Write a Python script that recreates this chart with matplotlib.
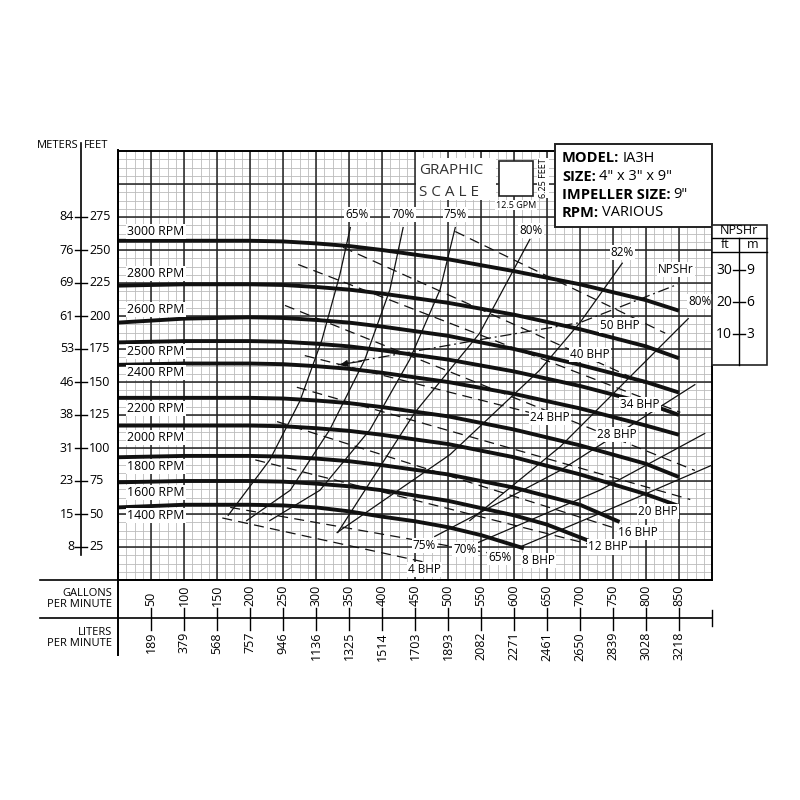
import matplotlib
matplotlib.use("Agg")
import matplotlib.pyplot as plt
import numpy as np

plt.rcParams['font.family'] = ['Open Sans', 'DejaVu Sans']

# ---- head curves (gpm, feet) ----
gpm_std = [0, 100, 200, 250, 300, 350, 400, 500, 600, 700, 800, 850]
head_curves = {
    "3000 RPM": (gpm_std, [257, 257, 257, 256.5, 255, 253, 250, 243, 234, 224, 212, 204]),
    "2800 RPM": (gpm_std, [223, 224, 224, 223.5, 222, 220, 217, 210, 201, 190, 177, 168]),
    "2600 RPM": (gpm_std, [195, 198, 199, 198.5, 197, 195, 192, 185, 175, 163, 150, 142]),
    "2500 RPM": (gpm_std, [180, 181, 181, 180.5, 179, 177, 174, 167, 158, 147, 134, 125]),
    "2400 RPM": (gpm_std, [163, 164, 164, 163.5, 162, 160, 157, 150, 141, 130, 117, 110]),
    "2200 RPM": (gpm_std, [138, 138, 138, 137.5, 136, 134, 131, 124, 114, 102, 88, 78]),
    "2000 RPM": (gpm_std, [117, 117, 117, 116.5, 115, 113, 110, 103, 93, 80, 65, 56]),
    "1800 RPM": ([0, 100, 200, 250, 300, 350, 400, 500, 600, 700, 760],
                 [93, 94, 94, 93.5, 92, 90, 87, 80, 70, 57, 44]),
    "1600 RPM": ([0, 100, 200, 250, 300, 350, 400, 500, 600, 650, 717],
                 [74, 75, 75, 74.5, 73, 71, 68, 60, 49, 42, 29]),
    "1400 RPM": ([0, 100, 200, 250, 300, 350, 400, 450, 500, 550, 615],
                 [55, 57, 57, 56.5, 55, 52, 48, 44.5, 40, 34, 24]),
}
rpm_label_ft = [264, 232, 205, 173, 157, 130, 108, 86, 66, 49]

# ---- efficiency curves ----
eff_curves = [
    ([352, 336, 309, 276, 230, 167], [267, 231, 182, 136, 91, 49]),   # 65%
    ([432, 412, 374, 321, 261, 195], [267, 220, 167, 114, 68, 45]),   # 70%
    ([511, 488, 442, 382, 306, 230], [267, 220, 167, 114, 68, 45]),   # 75%
    ([624, 548, 450, 333], [258, 187, 127, 36]),                      # 80%
    ([764, 700, 639, 503, 332], [240, 195, 159, 95, 36]),             # 82%
    ([864, 670, 533], [198, 101, 45]),                                # 80% right
    ([874, 670, 480], [148, 83, 33]),                                 # 75% right
    ([889, 730, 544], [111, 68, 28]),                                 # 70% right
    ([900, 761, 609], [87, 57, 25]),                                  # 65% right
]
eff_labels = ["65%", "70%", "75%", "80%", "82%", "80%", "75%", "70%", "65%"]
eff_label_pos = [(362, 277), (432, 277), (511, 277), (626, 265), (764, 248),
                 (882, 211), (464, 26), (526, 23), (579, 17)]

# ---- BHP lines ----
bhp_lines = [
    ([511, 829], [264, 187]), ([341, 798], [252, 149]), ([273, 852], [239, 127]),
    ([253, 874], [208, 83]), ([283, 639], [170, 125]), ([271, 867], [146, 61]),
    ([241, 761], [120, 38]), ([208, 715], [91, 27]), ([170, 579], [55, 19]),
    ([158, 488], [47, 11]),
]
bhp_labels = ["50 BHP", "40 BHP", "34 BHP", "28 BHP", "24 BHP", "20 BHP",
              "16 BHP", "12 BHP", "8 BHP", "4 BHP"]
bhp_label_pos = [(761, 193), (715, 171), (791, 133), (756, 110), (655, 123),
                 (818, 52), (788, 36), (742, 25), (637, 15), (465, 8)]

# ---- NPSHr ----
npsh_gpm = [333, 548, 700, 848]
npsh_ft = [163, 182, 195, 224]

# ---- axis labels ----
feet_ticks = [25, 50, 75, 100, 125, 150, 175, 200, 225, 250, 275]
meter_ticks = [8, 15, 23, 31, 38, 46, 53, 61, 69, 76, 84]
gpm_ticks = list(range(50, 900, 50))
lpm_ticks = [189, 379, 568, 757, 946, 1136, 1325, 1514, 1703, 1893, 2082,
             2271, 2461, 2650, 2839, 3028, 3218]

fig = plt.figure(figsize=(8, 8), dpi=100)
L, B, W, H = 118 / 800, 220 / 800, 594 / 800, 429 / 800
ax = fig.add_axes([L, B, W, H])
XMAX, YMAX = 900, 325
ax.set_xlim(0, XMAX)
ax.set_ylim(0, YMAX)
for g in np.arange(0, XMAX + 1, 12.5):
    ax.axvline(g, color='#bbbbbb', lw=0.6, zorder=0)
for f in np.arange(0, YMAX + 1, 6.25):
    ax.axhline(f, color='#bbbbbb', lw=0.6, zorder=0)
for g in range(0, XMAX, 50):
    ax.axvline(g, color='#222222', lw=1.1, zorder=1)
for f in range(0, YMAX, 25):
    ax.axhline(f, color='#222222', lw=1.1, zorder=1)
ax.set_xticks([])
ax.set_yticks([])
for s in ax.spines.values():
    s.set_linewidth(1.4)

lab = dict(fontsize=8.5, ha='center', va='center', zorder=6,
           bbox=dict(facecolor='white', edgecolor='none', pad=0.8))

for (name, (xs, ys)), ly in zip(head_curves.items(), rpm_label_ft):
    ax.plot(xs, ys, color='#111111', lw=2.8, solid_capstyle='butt',
            solid_joinstyle='round', zorder=4)
    ax.text(14, ly, name, fontsize=8.8, ha='left', va='center', zorder=6,
            bbox=dict(facecolor='white', edgecolor='none', pad=0.8))

for (xs, ys), t, p in zip(eff_curves, eff_labels, eff_label_pos):
    ax.plot(xs, ys, color='#111111', lw=0.9, zorder=3)
    ax.text(p[0], p[1], t, **lab)

for (xs, ys), t, p in zip(bhp_lines, bhp_labels, bhp_label_pos):
    ax.plot(xs, ys, color='#111111', lw=0.9, dashes=(8, 5), zorder=3)
    ax.text(p[0], p[1], t, **lab)

ax.plot(npsh_gpm, npsh_ft, color='#111111', lw=0.9, dashes=(9, 3, 1.5, 3), zorder=3)
ax.annotate("", xy=(npsh_gpm[0], npsh_ft[0]), xytext=(npsh_gpm[0] + 40, npsh_ft[0] + 3),
            arrowprops=dict(arrowstyle='-|>', color='#111111', lw=0.9), zorder=3)
ax.text(845, 235, "NPSHr", **lab)

# ---- overlay in pixel coordinates for the frame texts ----
ov = fig.add_axes([0, 0, 1, 1], zorder=5)
ov.set_xlim(0, 800)
ov.set_ylim(800, 0)
ov.axis('off')
ov.patch.set_alpha(0)


def px_y(ft):
    return 580 - ft * 429 / YMAX


def px_x(g):
    return 118 + g * 594 / XMAX


# left scale
ov.plot([81, 81], [143, 555], color='k', lw=1.2)
ov.text(79, 146, "METERS", fontsize=8, ha='right', va='center')
ov.text(84, 146, "FEET", fontsize=8, ha='left', va='center')
for f, m in zip(feet_ticks, meter_ticks):
    y = px_y(f)
    ov.plot([75, 87], [y, y], color='k', lw=1.0)
    ov.text(74, y, str(m), fontsize=9, ha='right', va='center')
    ov.text(89, y, str(f), fontsize=9, ha='left', va='center')

# bottom strips
ov.plot([118, 118], [150, 655], color='k', lw=1.4)
ov.plot([40, 712], [580, 580], color='k', lw=1.2)
ov.plot([40, 712], [618, 618], color='k', lw=1.2)
ov.plot([712, 712], [610, 626], color='k', lw=1.0)
ov.text(112, 599, "GALLONS\nPER MINUTE", fontsize=8, ha='right', va='center',
        linespacing=1.0)
ov.text(112, 638, "LITERS\nPER MINUTE", fontsize=8, ha='right', va='center',
        linespacing=1.0)
for g, lp in zip(gpm_ticks, lpm_ticks):
    x = px_x(g)
    ov.plot([x, x], [608, 630], color='k', lw=1.0)
    ov.text(x, 606, str(g), fontsize=9, rotation=90, ha='center', va='bottom')
    ov.text(x, 632, str(lp), fontsize=9, rotation=90, ha='center', va='top')

# graphic scale
ov.add_patch(plt.Rectangle((416, 158), 80, 42, facecolor='white', edgecolor='none', zorder=1))
ov.text(419, 170, "GRAPHIC", fontsize=11, ha='left', va='center', color='#333333')
ov.text(419, 192, "S C A L E", fontsize=11, ha='left', va='center', color='#333333')
ov.add_patch(plt.Rectangle((499, 161), 34, 35, facecolor='white', edgecolor='#222222',
                           lw=1.2, zorder=2))
ov.add_patch(plt.Rectangle((537, 158), 12, 40, facecolor='white', edgecolor='none', zorder=1))
ov.text(543, 178, "6.25 FEET", fontsize=6.5, rotation=90, ha='center', va='center', zorder=3)
ov.text(516, 205, "12.5 GPM", fontsize=6.5, ha='center', va='center', zorder=3,
        bbox=dict(facecolor='white', edgecolor='none', pad=0.5))

# info box
ov.add_patch(plt.Rectangle((555, 144), 157, 83, facecolor='white', edgecolor='#222222',
                           lw=1.4, zorder=2))
info = [("MODEL:", "IA3H", 158), ("SIZE:", '4" x 3" x 9"', 177),
        ("IMPELLER SIZE:", '9"', 195), ("RPM:", "VARIOUS", 213)]
renderer = fig.canvas.get_renderer()
for b, r, y in info:
    tb = ov.text(562, y, b, fontsize=10.5, fontweight='bold', ha='left', va='center', zorder=3)
    bb = tb.get_window_extent(renderer)
    xr = bb.x1 / fig.dpi * 100 + 3   # figure is 800 px wide
    ov.text(xr, y, r, fontsize=10.5, ha='left', va='center', zorder=3)

# NPSHr table
ov.add_patch(plt.Rectangle((712, 225), 55, 140, facecolor='white', edgecolor='#222222',
                           lw=1.2, zorder=2))
ov.plot([712, 767], [238, 238], color='k', lw=1.0, zorder=3)
ov.plot([712, 767], [252, 252], color='k', lw=1.0, zorder=3)
ov.plot([739, 739], [238, 365], color='k', lw=1.0, zorder=3)
ov.text(739, 231, "NPSHr", fontsize=9, ha='center', va='center', zorder=4)
ov.text(725, 245, "ft", fontsize=9, ha='center', va='center', zorder=4)
ov.text(753, 245, "m", fontsize=9, ha='center', va='center', zorder=4)
for ft_v, m_v, y in [(30, 9, 270), (20, 6, 302), (10, 3, 334)]:
    ov.plot([733, 745], [y, y], color='k', lw=1.0, zorder=3)
    ov.text(732, y, str(ft_v), fontsize=10, ha='right', va='center', zorder=4)
    ov.text(746, y, str(m_v), fontsize=10, ha='left', va='center', zorder=4)

fig.savefig("out.png", dpi=100, facecolor='white')
